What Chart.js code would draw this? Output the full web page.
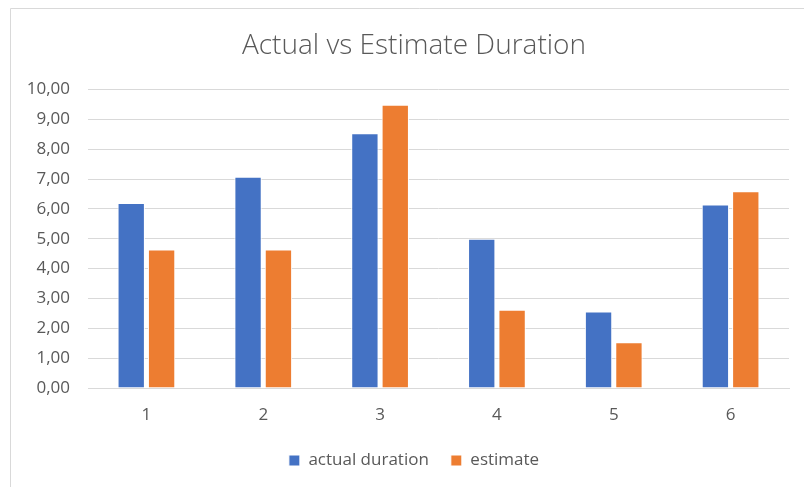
<!DOCTYPE html>
<html>
<head>
<meta charset="utf-8">
<script src="https://cdn.jsdelivr.net/npm/chart.js@4"></script>
<style>
  body { margin: 0; background: #fff; overflow: hidden; }
  #wrap { width: 804px; height: 487px; overflow: hidden; }
</style>
</head>
<body>
<!-- the excel chart box is a little wider than the screenshot, so the canvas is cropped on the right -->
<div id="wrap"><canvas id="bar-chart" width="828" height="487"></canvas></div>
<script>
// chart data
var categories = ["1", "2", "3", "4", "5", "6"];
var actualDuration = [6.2, 7.08, 8.54, 5.0, 2.56, 6.15];
var estimate = [4.64, 4.64, 9.49, 2.62, 1.53, 6.59];
var yTicks = [0, 1, 2, 3, 4, 5, 6, 7, 8, 9, 10];

var textColor = "#595959";
var gridColor = "#d9d9d9";

// light frame like the excel chart area (left + top edge only visible)
var framePlugin = {
  id: "frame",
  beforeDraw: function(chart) {
    var ctx = chart.ctx;
    ctx.save();
    ctx.strokeStyle = gridColor;
    ctx.lineWidth = 1;
    ctx.beginPath();
    ctx.moveTo(10.5, chart.height);
    ctx.lineTo(10.5, 8.5);
    ctx.lineTo(chart.width, 8.5);
    ctx.stroke();
    ctx.restore();
  }
};

new Chart(document.getElementById("bar-chart"), {
  type: "bar",
  data: {
    labels: categories,
    datasets: [{
      label: "actual duration",
      data: actualDuration,
      backgroundColor: "#4472C4",
      borderColor: "#ffffff",
      borderWidth: 1,
      categoryPercentage: 0.52,
      barPercentage: 0.9
    }, {
      label: "estimate",
      data: estimate,
      backgroundColor: "#ED7D31",
      borderColor: "#ffffff",
      borderWidth: 1,
      categoryPercentage: 0.52,
      barPercentage: 0.9
    }]
  },
  options: {
    responsive: false,
    animation: false,
    layout: { padding: { left: 10, right: 10, top: 29, bottom: 8 } },
    plugins: {
      title: {
        display: true,
        text: "Actual vs Estimate Duration",
        color: textColor,
        font: { family: "Open Sans", size: 28, weight: "300" },
        padding: { top: 0, bottom: 27 }
      },
      legend: {
        position: "bottom",
        labels: {
          color: textColor,
          font: { family: "Open Sans", size: 17 },
          boxWidth: 11,
          boxHeight: 11,
          padding: 22
        }
      },
      tooltip: { enabled: false }
    },
    scales: {
      x: {
        grid: { display: false, drawTicks: false },
        border: { color: gridColor },
        afterFit: function(scale) { scale.height = 42; },
        ticks: { color: textColor, font: { family: "Open Sans", size: 17 }, padding: 17 }
      },
      y: {
        min: 0,
        max: 10,
        afterFit: function(scale) { scale.width = 78; },
        afterBuildTicks: function(scale) {
          scale.ticks = yTicks.map(function(v) { return { value: v }; });
        },
        grid: { color: gridColor, drawTicks: false, lineWidth: 1 },
        border: { display: false },
        ticks: {
          color: textColor,
          font: { family: "Open Sans", size: 17 },
          padding: 18,
          callback: function(v) { return v.toFixed(2).replace(".", ","); }
        }
      },
      // empty right axis, only keeps the plot clear of the right edge
      spacer: {
        position: "right",
        axis: "y",
        display: true,
        afterFit: function(scale) { scale.width = 29; },
        grid: { display: false, drawTicks: false },
        border: { display: false },
        ticks: { display: false }
      }
    }
  },
  plugins: [framePlugin]
});
</script>
</body>
</html>
